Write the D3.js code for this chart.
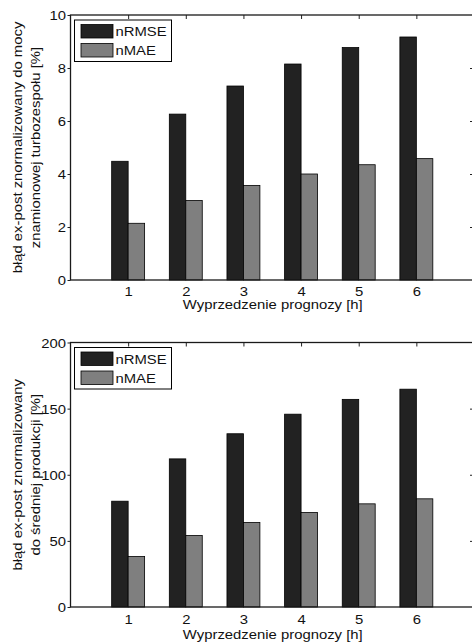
<!DOCTYPE html>
<html>
<head>
<meta charset="utf-8">
<script src="https://cdn.jsdelivr.net/npm/d3@7"></script>
<style>
  html, body { margin: 0; padding: 0; background: #fff; }
  svg { display: block; }
  text { font-family: "Liberation Sans", Arial, sans-serif; fill: #111; }
</style>
</head>
<body>
<svg id="chart" width="472" height="644"></svg>
<script>
// Forecast horizon (hours)
const horizons = [1, 2, 3, 4, 5, 6];
const seriesNames = ["nRMSE", "nMAE"];

// Error normalised to the rated power of the turbine set [%]
const ratedRMSE = [4.48, 6.26, 7.32, 8.15, 8.77, 9.17];
const ratedMAE  = [2.14, 3.00, 3.57, 4.00, 4.35, 4.58];
const ratedTicks = [0, 2, 4, 6, 8, 10];

// Error normalised to the mean production [%]
const meanRMSE = [80.0, 112.0, 131.0, 145.8, 157.0, 164.7];
const meanMAE  = [38.2, 54.1, 63.9, 71.5, 78.0, 81.8];
const meanTicks = [0, 50, 100, 150, 200];

const xLabel = "Wyprzedzenie prognozy [h]";
const ratedYLabel = ["błąd ex-post znormalizowany do mocy", "znamionowej turbozespołu [%]"];
const meanYLabel = ["błąd ex-post znormalizowany", "do średniej produkcji [%]"];

const colors = ["#222222", "#7f7f7f"];
const FONT = 13.5;
const SX = 1.1; // horizontal stretch of the lettering

const svg = d3.select("#chart");

const panels = [
  { top: 15, bottom: 280, ticks: ratedTicks, series: [ratedRMSE, ratedMAE],
    ylab: ratedYLabel, tickBase: 295.5, xlabBase: 308.5 },
  { top: 342.5, bottom: 607, ticks: meanTicks, series: [meanRMSE, meanMAE],
    ylab: meanYLabel, tickBase: 624, xlabBase: 638.5 }
];

const left = 70.5, right = 474;
const x = d3.scaleLinear().domain([0, 7]).range([left, right]);
const groupW = 2 / 3.5;      // width of a group of two bars
const barW = groupW / 2;     // bars touch each other inside a group

function stretchedText(g, str, tx, ty, anchor, rot) {
  return g.append("text")
    .attr("transform", `translate(${tx},${ty})` + (rot ? ` rotate(${rot})` : "") + ` scale(${SX},1)`)
    .attr("text-anchor", anchor)
    .style("font-size", FONT + "px")
    .text(str);
}

panels.forEach(p => {
  const yMax = p.ticks[p.ticks.length - 1];
  const y = d3.scaleLinear().domain([0, yMax]).range([p.bottom, p.top]);
  const g = svg.append("g");

  // bars
  p.series.forEach((vals, si) => {
    g.selectAll(null)
      .data(vals.map((v, i) => ({ h: horizons[i], v })))
      .join("rect")
      .attr("x", d => x(d.h - barW + si * barW))
      .attr("width", d => x(d.h + si * barW) - x(d.h - barW + si * barW))
      .attr("y", d => y(d.v))
      .attr("height", d => y(0) - y(d.v))
      .attr("fill", colors[si])
      .attr("stroke", "#000")
      .attr("stroke-width", 0.8);
  });

  // left axis, ticks outside
  const yAxis = g.append("g")
    .attr("transform", `translate(${left},0)`)
    .call(d3.axisLeft(y).tickValues(p.ticks).tickSize(3).tickSizeOuter(0).tickFormat(d3.format("d")));
  yAxis.select(".domain").remove();
  yAxis.selectAll(".tick line").attr("stroke", "#222").attr("stroke-width", 1);
  yAxis.selectAll(".tick text")
    .attr("x", null).attr("dy", null)
    .attr("transform", `translate(-4.5,4.8) scale(${SX},1)`)
    .attr("text-anchor", "end")
    .style("font-size", FONT + "px")
    .style("font-family", "Liberation Sans, Arial, sans-serif")
    .attr("fill", "#111");

  // right axis, ticks inside
  const yAxisR = g.append("g")
    .attr("transform", `translate(${right},0)`)
    .call(d3.axisLeft(y).tickValues(p.ticks.slice(1, -1)).tickSizeInner(4).tickSizeOuter(0).tickFormat(""));
  yAxisR.select(".domain").remove();
  yAxisR.selectAll(".tick line").attr("x2", -4).attr("stroke", "#222");

  // top axis, ticks inside
  const xAxisT = g.append("g")
    .attr("transform", `translate(0,${p.top})`)
    .call(d3.axisTop(x).tickValues(horizons).tickSizeInner(-4).tickSizeOuter(0).tickFormat(""));
  xAxisT.select(".domain").remove();
  xAxisT.selectAll(".tick line").attr("stroke", "#222");

  // bottom axis labels
  const xAxisB = g.append("g")
    .attr("transform", `translate(0,${p.bottom})`)
    .call(d3.axisBottom(x).tickValues(horizons).tickSize(0).tickFormat(d3.format("d")));
  xAxisB.select(".domain").remove();
  xAxisB.selectAll(".tick text")
    .attr("y", null).attr("dy", null)
    .attr("transform", `translate(0,${p.tickBase - p.bottom}) scale(${SX},1)`)
    .style("font-size", FONT + "px")
    .style("font-family", "Liberation Sans, Arial, sans-serif")
    .attr("fill", "#111");

  // axes box
  g.append("rect")
    .attr("x", left).attr("y", p.top)
    .attr("width", right - left).attr("height", p.bottom - p.top)
    .attr("fill", "none").attr("stroke", "#1a1a1a").attr("stroke-width", 1.3);

  // axis titles
  stretchedText(g, xLabel, (x(1) + x(6)) / 2 + 0.5, p.xlabBase, "middle");
  const cy = (p.top + p.bottom) / 2;
  stretchedText(g, p.ylab[0], 22.3, cy, "middle", -90);
  stretchedText(g, p.ylab[1], 40.3, cy, "middle", -90);

  // legend
  const lx = 74.5, ly = p.top + 5;
  const lg = g.append("g");
  lg.append("rect").attr("x", lx).attr("y", ly).attr("width", 97).attr("height", 41.5)
    .attr("fill", "#fff").attr("stroke", "#000").attr("stroke-width", 1);
  seriesNames.forEach((name, i) => {
    const sy = ly + 4.5 + i * 19;
    lg.append("rect").attr("x", 81).attr("y", sy).attr("width", 32).attr("height", 13.5)
      .attr("fill", colors[i]).attr("stroke", "#000").attr("stroke-width", 0.8);
    stretchedText(lg, name, 115.5, sy + 6.75 + 4.8, "start");
  });
});
</script>
</body>
</html>
